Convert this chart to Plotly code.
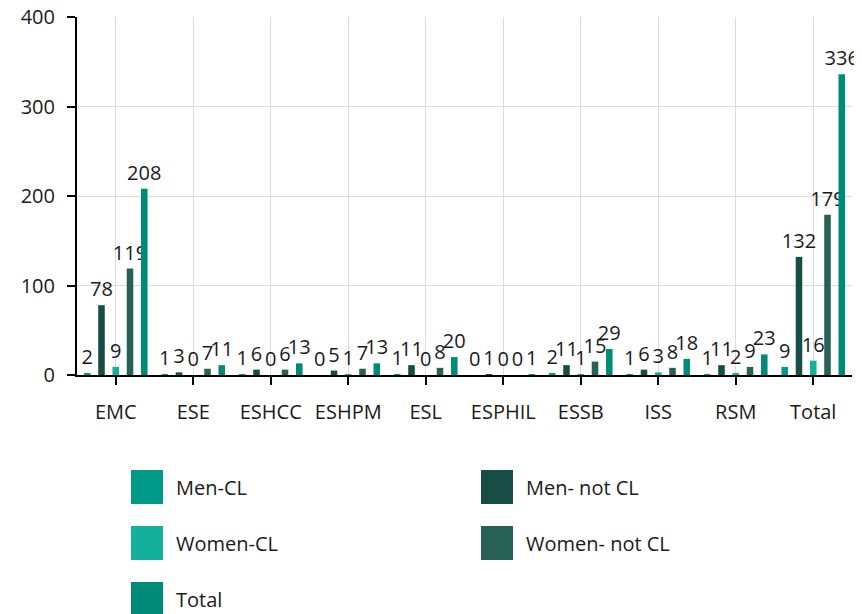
import plotly.graph_objects as go

categories = ["EMC", "ESE", "ESHCC", "ESHPM", "ESL", "ESPHIL", "ESSB", "ISS", "RSM", "Total"]
men_cl = [2, 1, 1, 0, 1, 0, 2, 1, 1, 9]
men_not_cl = [78, 3, 6, 5, 11, 1, 11, 6, 11, 132]
women_cl = [9, 0, 0, 1, 0, 0, 1, 3, 2, 16]
women_not_cl = [119, 7, 6, 7, 8, 0, 15, 8, 9, 179]
total = [208, 11, 13, 13, 20, 1, 29, 18, 23, 336]

series_names = ["Men-CL", "Men- not CL", "Women-CL", "Women- not CL", "Total"]
series_values = [men_cl, men_not_cl, women_cl, women_not_cl, total]
series_colors = ["#009a88", "#164e46", "#14b09e", "#286257", "#008a78"]

y_ticks = [0, 100, 200, 300, 400]

FONT = "Open Sans"
FS = 20
TXT = "#1a1a1a"
# page has an 8px body margin; size the figure so the plot lands where the reference has it
OFF = 8
W, H = 862 - OFF, 614 - OFF
L, R, T, B = 77 - OFF, 10, 17 - OFF, 239

fig = go.Figure()
for name, vals, col in zip(series_names, series_values, series_colors):
    fig.add_trace(go.Bar(
        x=categories, y=vals, name=name, marker_color=col, marker_line_width=0,
        text=[str(v) for v in vals], textposition="outside", cliponaxis=False,
        constraintext="none", textfont=dict(family=FONT, size=FS, color=TXT),
        showlegend=False,
    ))

# custom legend (2 columns, row-major); positions given in page pixels
plot_w = W - L - R
plot_h = H - T - B
def px_x(p):
    return (p - OFF - L) / plot_w
def px_y(p):
    return (H - B - (p - OFF)) / plot_h

col_x = [131, 481]
row_y = [487, 543, 599]
shapes = []
annotations = []
for i, (name, col) in enumerate(zip(series_names, series_colors)):
    c, r = i % 2, i // 2
    x0 = col_x[c]
    yc = row_y[r]
    shapes.append(dict(type="rect", xref="paper", yref="paper",
                       x0=px_x(x0), x1=px_x(x0 + 32), y0=px_y(yc + 17), y1=px_y(yc - 17),
                       fillcolor=col, line=dict(width=0)))
    annotations.append(dict(xref="paper", yref="paper", x=px_x(x0 + 43), y=px_y(yc),
                            text=name, showarrow=False, xanchor="left", yanchor="middle",
                            font=dict(family=FONT, size=FS, color=TXT)))

fig.update_layout(
    width=W, height=H,
    margin=dict(l=L, r=R, t=T, b=B, autoexpand=False),
    paper_bgcolor="white", plot_bgcolor="white",
    barmode="group", bargap=0.08, bargroupgap=0.54,
    font=dict(family=FONT, size=FS, color=TXT),
    shapes=shapes, annotations=annotations,
    xaxis=dict(automargin=False, showline=True, linecolor="black", linewidth=2, ticks="outside",
               ticklen=8, tickcolor="black", tickwidth=2, showgrid=True,
               gridcolor="#dcdcdc", gridwidth=1, ticklabelstandoff=10,
               ticklabeloverflow="allow",
               tickfont=dict(family=FONT, size=FS, color=TXT)),
    yaxis=dict(automargin=False, range=[0, 400], tickvals=y_ticks, showline=True, linecolor="black",
               linewidth=2, ticks="outside", ticklen=8, tickcolor="black", tickwidth=2,
               showgrid=True, gridcolor="#dcdcdc", gridwidth=1, zeroline=False,
               ticklabelstandoff=8, ticklabeloverflow="allow",
               tickfont=dict(family=FONT, size=FS, color=TXT)),
)

fig.write_html("out.html")
